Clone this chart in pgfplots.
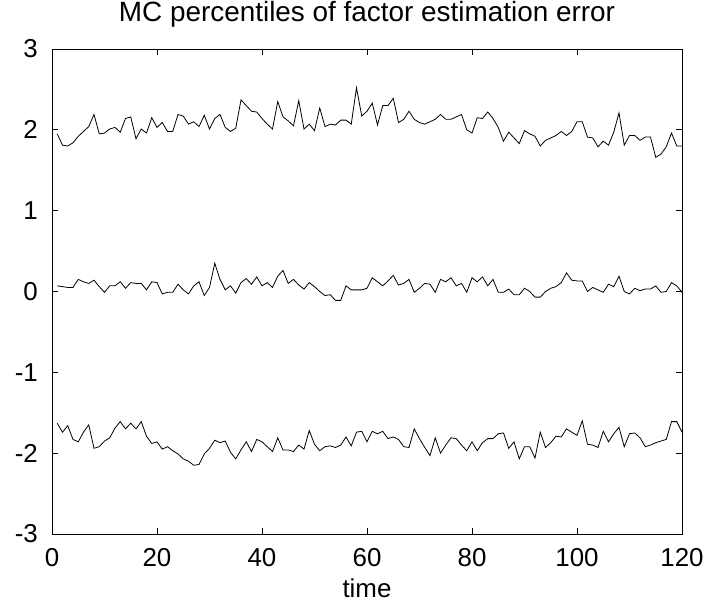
\documentclass[border=0pt]{standalone}
\usepackage{pgfplots}
\pgfplotsset{compat=1.18}
\usepackage{pgfplotstable}
\usepackage{fontspec}
\setmainfont{Liberation Sans}

% Monte Carlo percentiles of the factor estimation error: upper, median, lower
\pgfplotstableread{
t e
1 1.95
2 1.81
3 1.80
4 1.84
5 1.92
6 1.98
7 2.04
8 2.19
9 1.95
10 1.96
11 2.01
12 2.03
13 1.97
14 2.14
15 2.16
16 1.89
17 2.01
18 1.96
19 2.15
20 2.03
21 2.09
22 1.98
23 1.98
24 2.19
25 2.17
26 2.07
27 2.10
28 2.04
29 2.18
30 2.01
31 2.14
32 2.19
33 2.03
34 1.98
35 2.02
36 2.37
37 2.30
38 2.23
39 2.22
40 2.14
41 2.07
42 2.01
43 2.35
44 2.16
45 2.11
46 2.05
47 2.36
48 2.01
49 2.07
50 1.99
51 2.27
52 2.04
53 2.07
54 2.06
55 2.12
56 2.12
57 2.07
58 2.52
59 2.17
60 2.23
61 2.33
62 2.06
63 2.30
64 2.30
65 2.39
66 2.09
67 2.13
68 2.23
69 2.13
70 2.09
71 2.07
72 2.10
73 2.13
74 2.19
75 2.13
76 2.13
77 2.16
78 2.19
79 2.00
80 1.96
81 2.15
82 2.14
83 2.22
84 2.14
85 2.03
86 1.86
87 1.97
88 1.90
89 1.83
90 1.99
91 1.95
92 1.92
93 1.80
94 1.87
95 1.90
96 1.93
97 1.98
98 1.93
99 1.98
100 2.10
101 2.10
102 1.91
103 1.90
104 1.79
105 1.86
106 1.81
107 1.97
108 2.21
109 1.81
110 1.93
111 1.93
112 1.87
113 1.91
114 1.91
115 1.66
116 1.70
117 1.79
118 1.96
119 1.80
120 1.80
}\pctupper

\pgfplotstableread{
t e
1 0.07
2 0.06
3 0.05
4 0.05
5 0.15
6 0.12
7 0.10
8 0.14
9 0.06
10 -0.01
11 0.07
12 0.07
13 0.12
14 0.04
15 0.11
16 0.10
17 0.10
18 0.02
19 0.12
20 0.11
21 -0.03
22 -0.01
23 -0.01
24 0.09
25 0.02
26 -0.03
27 0.07
28 0.12
29 -0.05
30 0.05
31 0.35
32 0.15
33 0.02
34 0.07
35 -0.02
36 0.11
37 0.16
38 0.09
39 0.18
40 0.07
41 0.11
42 0.05
43 0.19
44 0.26
45 0.10
46 0.15
47 0.08
48 0.03
49 0.11
50 0.06
51 0.00
52 -0.05
53 -0.04
54 -0.11
55 -0.11
56 0.07
57 0.02
58 0.02
59 0.02
60 0.04
61 0.17
62 0.12
63 0.07
64 0.13
65 0.20
66 0.08
67 0.10
68 0.15
69 -0.01
70 0.04
71 0.10
72 0.09
73 -0.01
74 0.15
75 0.12
76 0.17
77 0.07
78 0.10
79 -0.01
80 0.17
81 0.12
82 0.18
83 0.07
84 0.15
85 -0.01
86 -0.01
87 0.03
88 -0.04
89 -0.04
90 0.04
91 0.00
92 -0.07
93 -0.07
94 0.00
95 0.04
96 0.06
97 0.11
98 0.23
99 0.14
100 0.13
101 0.13
102 0.00
103 0.05
104 0.02
105 -0.01
106 0.09
107 0.06
108 0.19
109 0.00
110 -0.03
111 0.04
112 0.01
113 0.03
114 0.03
115 0.07
116 -0.01
117 0.00
118 0.11
119 0.07
120 -0.01
}\pctmedian

\pgfplotstableread{
t e
1 -1.63
2 -1.74
3 -1.66
4 -1.83
5 -1.86
6 -1.74
7 -1.65
8 -1.94
9 -1.92
10 -1.85
11 -1.81
12 -1.69
13 -1.61
14 -1.70
15 -1.63
16 -1.70
17 -1.61
18 -1.79
19 -1.88
20 -1.86
21 -1.95
22 -1.92
23 -1.97
24 -2.01
25 -2.07
26 -2.10
27 -2.15
28 -2.14
29 -2.01
30 -1.94
31 -1.84
32 -1.87
33 -1.85
34 -1.99
35 -2.07
36 -1.96
37 -1.86
38 -1.98
39 -1.83
40 -1.86
41 -1.92
42 -1.98
43 -1.81
44 -1.96
45 -1.96
46 -1.98
47 -1.90
48 -1.95
49 -1.72
50 -1.89
51 -1.97
52 -1.92
53 -1.91
54 -1.93
55 -1.90
56 -1.80
57 -1.91
58 -1.74
59 -1.73
60 -1.86
61 -1.73
62 -1.76
63 -1.73
64 -1.82
65 -1.80
66 -1.83
67 -1.92
68 -1.93
69 -1.70
70 -1.82
71 -1.93
72 -2.03
73 -1.81
74 -2.00
75 -1.90
76 -1.81
77 -1.82
78 -1.90
79 -1.97
80 -1.86
81 -1.97
82 -1.87
83 -1.82
84 -1.82
85 -1.76
86 -1.75
87 -1.94
88 -1.86
89 -2.07
90 -1.92
91 -1.92
92 -2.06
93 -1.74
94 -1.93
95 -1.87
96 -1.79
97 -1.80
98 -1.70
99 -1.74
100 -1.78
101 -1.60
102 -1.89
103 -1.90
104 -1.93
105 -1.73
106 -1.86
107 -1.76
108 -1.68
109 -1.92
110 -1.76
111 -1.75
112 -1.81
113 -1.92
114 -1.90
115 -1.87
116 -1.85
117 -1.83
118 -1.61
119 -1.61
120 -1.74
}\pctlower

\begin{document}
\begin{tikzpicture}
\begin{axis}[
  scale only axis,
  width=630bp, height=485bp,
  xmin=0, xmax=120, ymin=-3, ymax=3,
  xtick={0,20,40,60,80,100,120},
  xticklabels={0,20,40,60,80,100,120},
  ytick={-3,-2,-1,0,1,2,3},
  yticklabels={-3,-2,-1,0,1,2,3},
  tick align=inside,
  major tick length=6bp,
  axis line style={line width=0.9bp},
  every tick/.style={line width=0.9bp, black},
  tick label style={font=\fontsize{26}{29}\selectfont, inner sep=0pt},
  xticklabel style={anchor=north, yshift=-14bp},
  yticklabel style={anchor=east, xshift=-14bp},
  title={MC percentiles of factor estimation error},
  title style={font=\fontsize{28}{31}\selectfont, at={(axis description cs:0.5,1)}, anchor=base, yshift=22bp, inner sep=0pt},
  xlabel={time},
  xlabel style={font=\fontsize{26}{29}\selectfont, at={(axis description cs:0.5,0)}, anchor=base, yshift=-64bp, inner sep=0pt},
  clip=false,
]
\addplot[black, line width=0.8bp] table[x=t, y=e] {\pctupper};
\addplot[black, line width=0.8bp] table[x=t, y=e] {\pctmedian};
\addplot[black, line width=0.8bp] table[x=t, y=e] {\pctlower};
\end{axis}
\pgfresetboundingbox
\path (current axis.south west) ++(-52bp,-73bp) rectangle ([shift={(27bp,49bp)}]current axis.north east);
\end{tikzpicture}
\end{document}
